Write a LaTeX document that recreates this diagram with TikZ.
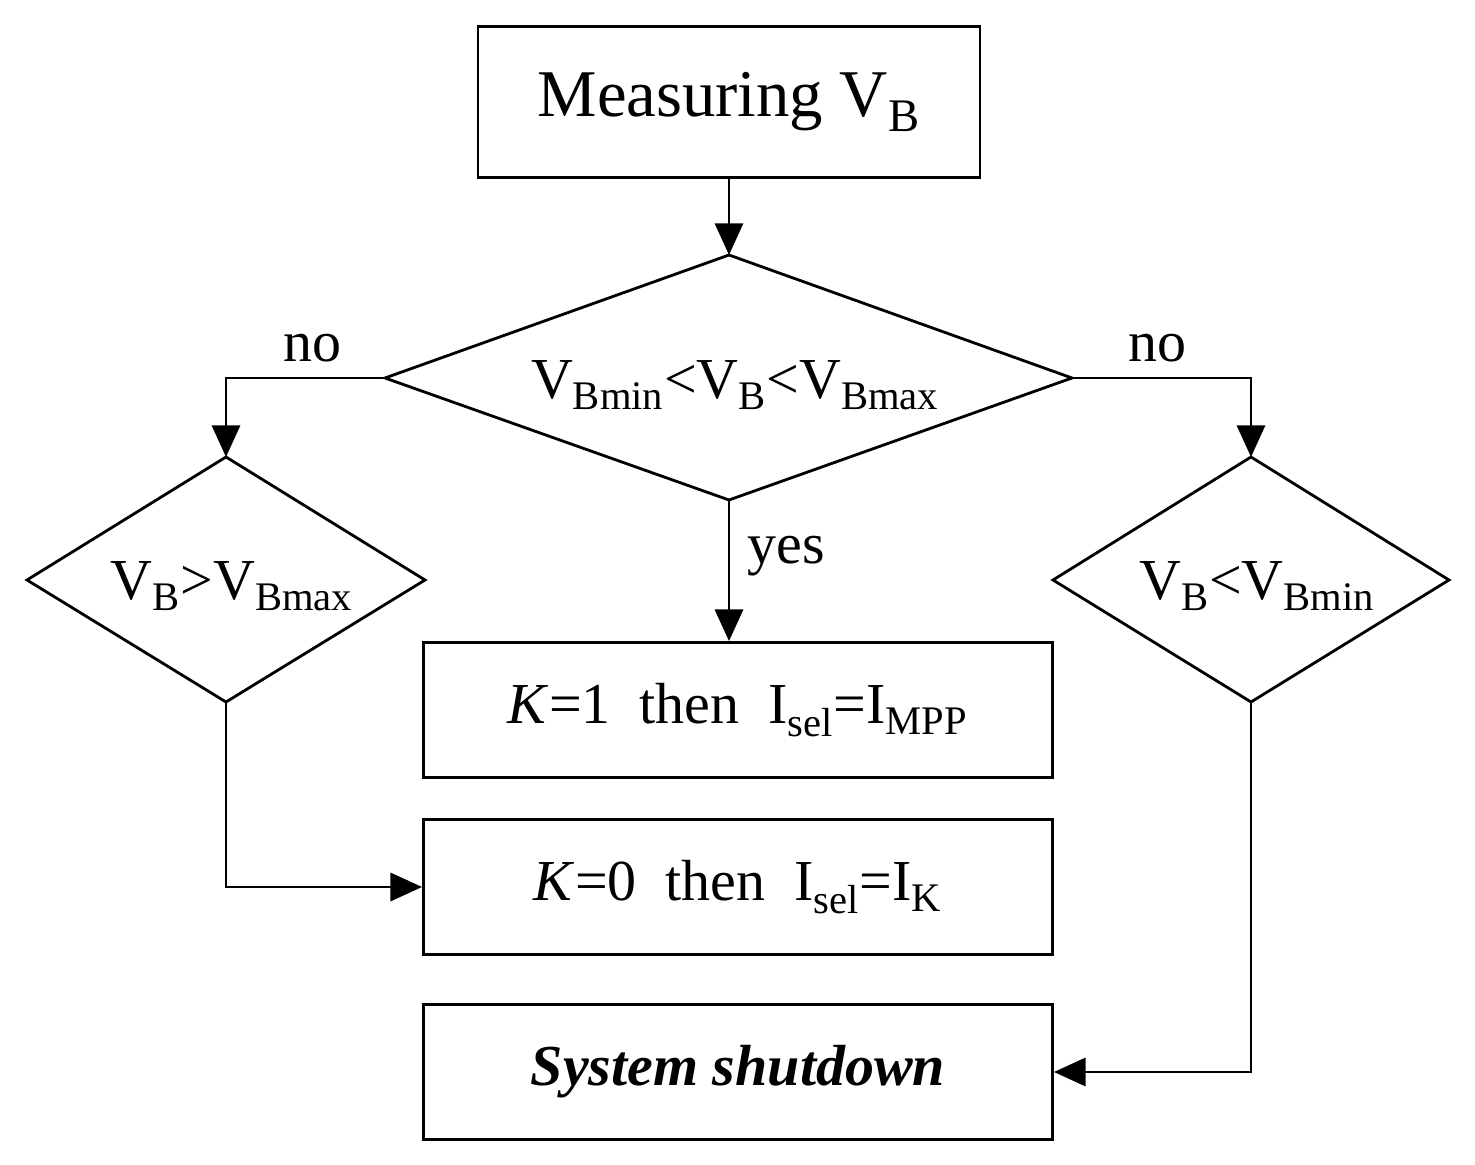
\documentclass[tikz,border=0pt]{standalone}
\usepackage{fontspec}
\setmainfont{Liberation Serif}
\usetikzlibrary{arrows.meta}
\begin{document}
\begin{tikzpicture}[x=0.02cm,y=-0.02cm,
 box/.style={draw,line width=1.6pt,inner sep=0pt},
 ln/.style={line width=1.6pt},
 arr/.style={ln,-{Triangle[length=18pt,width=16pt]}},
 big/.style={font=\fontsize{38}{42}\selectfont},
 mid/.style={font=\fontsize{33}{38}\selectfont}]
\useasboundingbox (0,0) rectangle (1475,1165);
\node[box,minimum width=502*0.02cm,minimum height=151*0.02cm,big] (meas) at (729,102) {Measuring V\textsubscript{B}};
\node[box,minimum width=629*0.02cm,minimum height=135*0.02cm,mid] (k1) at (738,710) {\textit{K}=1\ \ then\ \ I\textsubscript{sel}=I\textsubscript{MPP}};
\node[box,minimum width=629*0.02cm,minimum height=135*0.02cm,mid] (k0) at (738,887) {\textit{K}=0\ \ then\ \ I\textsubscript{sel}=I\textsubscript{K}};
\node[box,minimum width=629*0.02cm,minimum height=135*0.02cm,mid] (sd) at (738,1072) {\textbf{\textit{System shutdown}}};
% diamonds
\coordinate (dT) at (729,255); \coordinate (dB) at (729,500);
\coordinate (dL) at (385,378); \coordinate (dR) at (1072,378);
\draw[ln] (dT)--(dR)--(dB)--(dL)--cycle;
\node[mid] (dtxt) at (735,385) {V\textsubscript{Bmin}<V\textsubscript{B}<V\textsubscript{Bmax}};
\coordinate (lT) at (226,457); \coordinate (lB) at (226,702);
\coordinate (lL) at (27,580); \coordinate (lR) at (425,580);
\draw[ln] (lT)--(lR)--(lB)--(lL)--cycle;
\node[mid] (ltxt) at (232,586) {V\textsubscript{B}>V\textsubscript{Bmax}};
\coordinate (rT) at (1251,457); \coordinate (rB) at (1251,702);
\coordinate (rL) at (1053,580); \coordinate (rR) at (1449,580);
\draw[ln] (rT)--(rR)--(rB)--(rL)--cycle;
\node[mid] (rtxt) at (1257,586) {V\textsubscript{B}<V\textsubscript{Bmin}};
% connectors
\draw[arr] (meas.south) -- (dT);
\draw[arr] (dL) -| (lT);
\draw[arr] (dR) -| (rT);
\draw[arr] (dB) -- (dB|-k1.north);
\draw[arr] (lB) |- (k0.west);
\draw[arr] (rB) |- (sd.east);
\node[mid] (no1) at (312,348) {no};
\node[mid] (no2) at (1157,348) {no};
\node[mid] (yes) at (786,556) {yes};
\end{tikzpicture}
\end{document}
